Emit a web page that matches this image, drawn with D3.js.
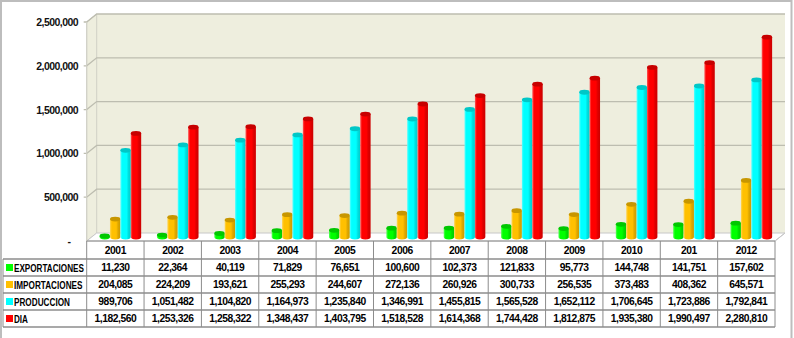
<!DOCTYPE html>
<html>
<head>
<meta charset="utf-8">
<script src="https://cdn.jsdelivr.net/npm/d3@7/dist/d3.min.js"></script>
<style>
html,body{margin:0;padding:0;background:#fff;}
svg{display:block;}
</style>
</head>
<body>
<svg id="chart" width="794" height="338"></svg>
<script>
const years = ["2001","2002","2003","2004","2005","2006","2007","2008","2009","2010","201","2012"];
const seriesNames = ["EXPORTACIONES","IMPORTACIONES","PRODUCCION","DIA"];
const exportaciones = [11230,22364,40119,71829,76651,100600,102373,121833,95773,144748,141751,157602];
const importaciones = [204085,224209,193621,255293,244607,272136,260926,300733,256535,373483,408362,645571];
const produccion = [989706,1051482,1104820,1164973,1235840,1346991,1455815,1565528,1652112,1706645,1723886,1792841];
const dia = [1182560,1253326,1258322,1348437,1403795,1518528,1614368,1744428,1812875,1935380,1990497,2280810];
const yTicks = [0,500000,1000000,1500000,2000000,2500000];
const colors = ["#00FF00","#FFC000","#00FFFF","#FF0000"];

const seriesValues = [exportaciones, importaciones, produccion, dia];

const svg = d3.select("#chart");
const defs = svg.append("defs");

// layout
const left = 86.7, right = 775, depthX = 10, depthY = -8;
const yFront0 = 241, yFrontTop = 22;
const x = d3.scaleBand().domain(years).range([left, right]);
const y = d3.scaleLinear().domain([0, 2500000]).range([yFront0, yFrontTop]);
const groupW = 41.6;
const x1 = d3.scaleBand().domain(seriesNames).range([0, groupW]);

// outer frame
svg.append("rect").attr("x",1).attr("y",1).attr("width",790.5).attr("height",345)
  .attr("fill","none").attr("stroke","#BDBDBD").attr("stroke-width",2);

// back wall
const wallFill = "#EEEEDE";
svg.append("rect").attr("x", left+depthX).attr("y", y(2500000)+depthY)
  .attr("width", right+depthX-(left+depthX)).attr("height", y(0)-y(2500000))
  .attr("fill", wallFill);
// side wall
svg.append("polygon")
  .attr("points", [[left,y(0)],[left+depthX,y(0)+depthY],[left+depthX,y(2500000)+depthY],[left,y(2500000)]].map(p=>p.join(",")).join(" "))
  .attr("fill", wallFill).attr("stroke","#CFCFC4").attr("stroke-width",1);
// floor
svg.append("polygon")
  .attr("points", [[left,y(0)],[left+depthX,y(0)+depthY],[right+depthX,y(0)+depthY],[right,y(0)]].map(p=>p.join(",")).join(" "))
  .attr("fill", "#FFFFFF").attr("stroke","#C8C8C8").attr("stroke-width",1);

// gridlines
const grid = svg.append("g");
yTicks.forEach(t => {
  if (t === 0) return;
  const yy = y(t);
  grid.append("polyline")
    .attr("points", `${left-3},${yy} ${left},${yy} ${left+depthX},${yy+depthY} ${right+depthX},${yy+depthY}`)
    .attr("fill","none").attr("stroke","#BDBDB0").attr("stroke-width",1.3);
});
// axis lines
svg.append("line").attr("x1",left).attr("x2",left).attr("y1",y(2500000)).attr("y2",y(0))
  .attr("stroke","#D0D0C8").attr("stroke-width",1);

// axis labels
const fmt = d3.format(",");
svg.append("g").selectAll("text").data(yTicks).join("text")
  .attr("x", d => d === 0 ? 69 : 78)
  .attr("y", d => y(d) + 4)
  .attr("text-anchor", d => d === 0 ? "middle" : "end")
  .attr("font-family","Liberation Sans, Arial, sans-serif")
  .attr("font-weight","bold").attr("font-size","10.5px").attr("letter-spacing","-0.55px")
  .attr("fill","#111")
  .text(d => d === 0 ? "-" : fmt(d));

// gradients
function mix(c, target, t){
  const a = d3.rgb(c), b = d3.rgb(target);
  return d3.rgb(a.r+(b.r-a.r)*t, a.g+(b.g-a.g)*t, a.b+(b.b-a.b)*t).formatHex();
}
colors.forEach((c,i) => {
  const g = defs.append("linearGradient").attr("id","grad"+i).attr("x1","0").attr("x2","1").attr("y1","0").attr("y2","0");
  g.append("stop").attr("offset","0%").attr("stop-color", mix(c,"#ffffff",0.35));
  g.append("stop").attr("offset","18%").attr("stop-color", c);
  g.append("stop").attr("offset","60%").attr("stop-color", c);
  g.append("stop").attr("offset","78%").attr("stop-color", mix(c,"#000000",0.13));
  g.append("stop").attr("offset","100%").attr("stop-color", mix(c,"#000000",0.2));
});

// bars (cylinders)
const bars = svg.append("g");
const bx = 5, by = -4, ry = 2.4;
years.forEach((yr, j) => {
  seriesNames.forEach((s, i) => {
    const v = seriesValues[i][j];
    const w = x1.bandwidth();
    const x0 = x(yr) + (x.bandwidth() - groupW)/2 + x1(s) + bx;
    const rx = w/2;
    const cx = x0 + rx;
    const yb = y(0) + by;
    const yt = y(v) + by;
    const g = bars.append("g");
    g.append("path")
      .attr("d", `M${x0},${yt} L${x0},${yb} A${rx},${ry} 0 0 0 ${x0+w},${yb} L${x0+w},${yt} Z`)
      .attr("fill", `url(#grad${i})`);
    g.append("ellipse").attr("cx", cx).attr("cy", yt).attr("rx", rx).attr("ry", ry)
      .attr("fill", mix(colors[i], "#000000", 0.22));
  });
});

// data table
const table = svg.append("g");
const rowTop = 241, headerH = 18, rowH = 17;
const lineColor = "#8C8C8C";
const tableLeft = 3;
const nRows = seriesNames.length;
const tableBottom = rowTop + headerH + nRows*rowH;
table.append("line").attr("x1",left).attr("x2",right).attr("y1",rowTop).attr("y2",rowTop).attr("stroke",lineColor);
table.append("line").attr("x1",right).attr("x2",right+depthX).attr("y1",rowTop).attr("y2",rowTop+depthY).attr("stroke","#C8C8C8");
for (let r = 0; r <= nRows; r++) {
  const yy = rowTop + headerH + r*rowH;
  table.append("line").attr("x1",tableLeft).attr("x2",right).attr("y1",yy).attr("y2",yy)
    .attr("stroke",lineColor).attr("stroke-width", 1.3);
}
table.append("line").attr("x1",tableLeft).attr("x2",tableLeft).attr("y1",rowTop+headerH).attr("y2",tableBottom).attr("stroke",lineColor);
years.concat(["_end"]).forEach((yr, j) => {
  const xx = j < years.length ? x(yr) : right;
  table.append("line").attr("x1",xx).attr("x2",xx).attr("y1",rowTop).attr("y2",tableBottom).attr("stroke",lineColor);
});
const tfont = "Liberation Sans, Arial, sans-serif";
table.selectAll("text.hdr").data(years).join("text").attr("class","hdr")
  .attr("x", d => x(d) + x.bandwidth()/2)
  .attr("y", rowTop + headerH/2 + 3.7)
  .attr("text-anchor","middle")
  .attr("font-family",tfont)
  .attr("font-weight","bold").attr("font-size","10.3px").attr("letter-spacing","-0.45px")
  .attr("fill","#000")
  .text(d => d);
const labelWidths = [70, 68.5, 56, 14];
seriesNames.forEach((s, i) => {
  const cy = rowTop + headerH + i*rowH + rowH/2;
  table.append("rect").attr("x",6).attr("y",cy-3.5).attr("width",7).attr("height",7).attr("fill",colors[i]);
  const t = table.append("text").attr("x",0).attr("y",0)
    .attr("font-family",tfont)
    .attr("font-weight","bold").attr("font-size","11px")
    .attr("fill","#000")
    .text(s);
  const natural = t.node().getComputedTextLength();
  const sx = labelWidths[i] / natural;
  t.attr("transform", `translate(14,${cy+4}) scale(${sx},1)`);
  table.append("g").selectAll("text").data(seriesValues[i]).join("text")
    .attr("x", (d, j) => x(years[j]) + x.bandwidth()/2)
    .attr("y", cy + 3.7)
    .attr("text-anchor","middle")
    .attr("font-family",tfont)
    .attr("font-weight","bold").attr("font-size","10.3px").attr("letter-spacing","-0.45px")
    .attr("fill","#000")
    .text(d => fmt(d));
});
</script>
</body>
</html>
